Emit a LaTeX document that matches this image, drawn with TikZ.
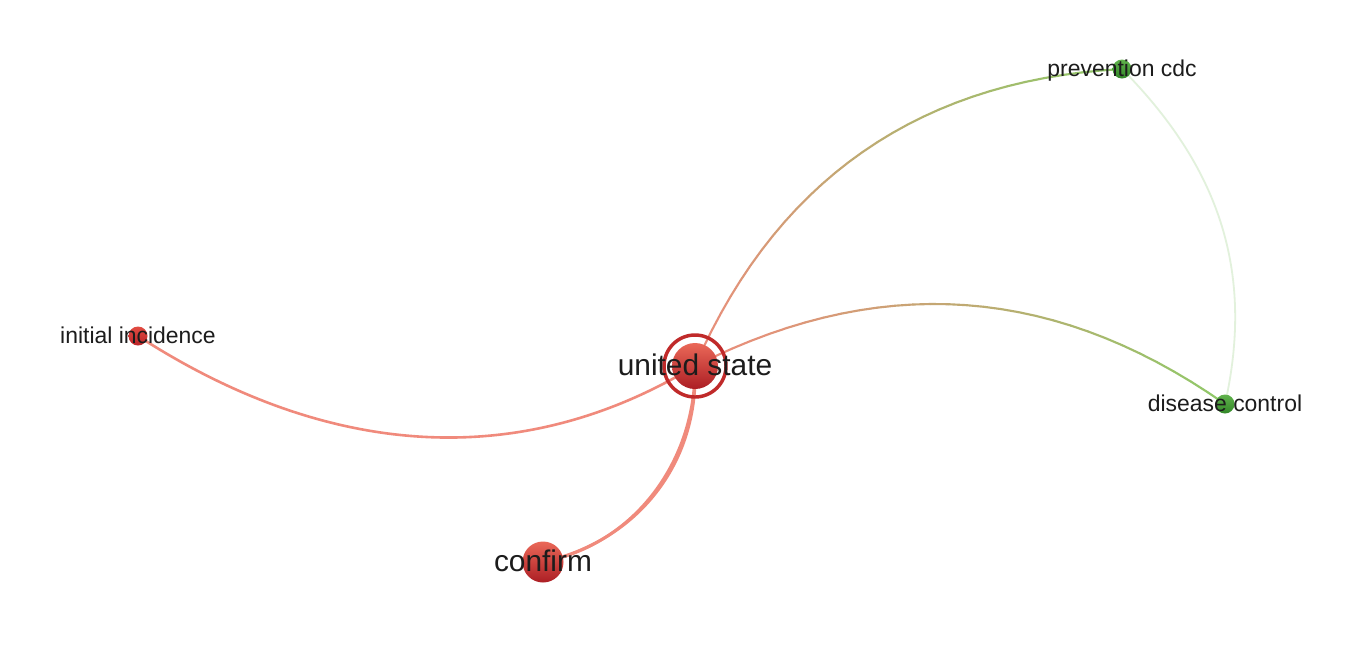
\documentclass[tikz,border=0pt]{standalone}
\usepackage{fontspec}
\setmainfont{Liberation Sans}
\usepackage{tikz}
\usetikzlibrary{backgrounds}

\definecolor{edgered}{RGB}{240,138,124}
\definecolor{edgegreen}{RGB}{145,200,105}
\definecolor{palegreen}{RGB}{226,241,220}
\definecolor{redtop}{RGB}{234,104,88}
\definecolor{redbot}{RGB}{172,30,36}
\definecolor{smalltop}{RGB}{226,76,66}
\definecolor{smallbot}{RGB}{186,36,40}
\definecolor{ringred}{RGB}{192,42,42}
\definecolor{greentop}{RGB}{96,178,76}
\definecolor{greenbot}{RGB}{50,135,40}
\definecolor{labelgray}{RGB}{28,28,28}

\tikzset{
  bigdot/.style={circle,inner sep=0pt,top color=redtop,bottom color=redbot},
  reddot/.style={circle,inner sep=0pt,minimum size=14.25pt,top color=smalltop,bottom color=smallbot},
  greendot/.style={circle,inner sep=0pt,minimum size=14.25pt,top color=greentop,bottom color=greenbot},
  usring/.style={circle,draw=ringred,line width=2.6pt,inner sep=0pt,minimum size=46.5pt},
  biglabel/.style={anchor=base,inner sep=0pt,text=labelgray,font=\fontsize{22.4}{26}\selectfont},
  smalllabel/.style={anchor=base,inner sep=0pt,text=labelgray,font=\fontsize{17.2}{20}\selectfont},
  redlink/.style={draw=edgered,line width=1.95pt,line cap=round},
  gradlink/.style={line width=1.6pt,line cap=round},
}

\begin{document}
\begin{tikzpicture}[x=0.75pt,y=-0.75pt]
  \useasboundingbox (0,0) rectangle (1366,658);

  % nodes
  \node[bigdot,minimum size=34.5pt] (us) at (695,366) {};
  \node[usring] (us-ring) at (us) {};
  \node[bigdot,minimum size=30.75pt] (cf) at (543,562) {};
  \node[reddot] (ii) at (138,336) {};
  \node[greendot] (pc) at (1122,69) {};
  \node[greendot] (dc) at (1225,404) {};

  % labels
  \node[biglabel] (us-lbl) at ([yshift=-6.8pt]us.center) {united state};
  \node[biglabel] (cf-lbl) at ([yshift=-6.8pt]cf.center) {confirm};
  \node[smalllabel] (ii-lbl) at ([yshift=-5.4pt]ii.center) {initial incidence};
  \node[smalllabel] (pc-lbl) at ([yshift=-5.4pt]pc.center) {prevention cdc};
  \node[smalllabel] (dc-lbl) at ([yshift=-5.4pt]dc.center) {disease control};

  \begin{scope}[on background layer]
    \fill[white] (0,0) rectangle (1366,658);

    % red links
    \draw[redlink] (us.center) .. controls (515,475) and (322,455) .. (ii.center);
    \draw[redlink,line width=2.2pt] (us.center) .. controls (699,463) and (638,541) .. (cf.center);
    \draw[redlink,line width=2.2pt] (us.center) .. controls (696,461) and (635,544) .. (cf.center);

    % pale link between the green ones
    \draw[palegreen,line width=1.35pt] (pc.center) .. controls (1218,166) and (1255,270) .. (dc.center);

    % red to green links, cut in short pieces
    \path (us.center) .. controls (776,180) and (919,80) .. (pc.center)
      foreach \k [evaluate=\k as \t using \k/30] in {0,...,30} {coordinate[pos=\t] (up-\k)};
    \path (us.center) .. controls (881,272) and (1055,285) .. (dc.center)
      foreach \k [evaluate=\k as \t using \k/30] in {0,...,30} {coordinate[pos=\t] (ud-\k)};
    \foreach \k [remember=\k as \j (initially 0),evaluate=\k as \mix using int(100*\k/30)] in {1,...,30}{
      \draw[gradlink,draw=edgegreen!\mix!edgered] (up-\j) -- (up-\k);
      \draw[gradlink,draw=edgegreen!\mix!edgered] (ud-\j) -- (ud-\k);
    }
  \end{scope}
\end{tikzpicture}
\end{document}
